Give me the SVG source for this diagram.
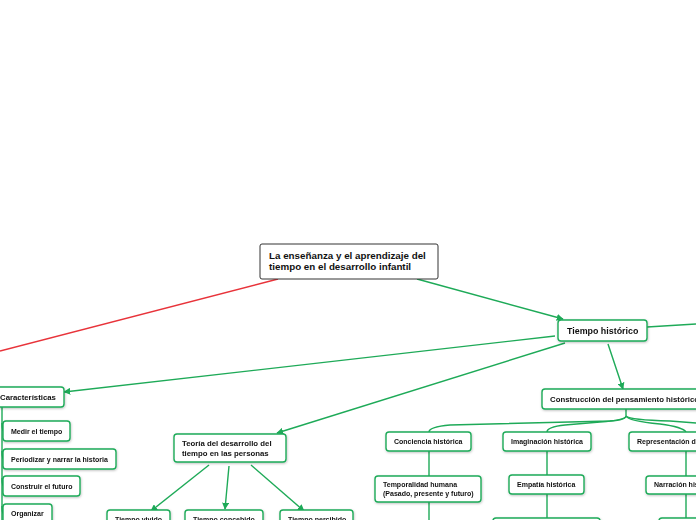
<svg xmlns="http://www.w3.org/2000/svg" width="696" height="520" viewBox="0 0 696 520">
<style>
.b{fill:#fff;stroke:#1eaa58;stroke-width:1.4}
.r{fill:#fff;stroke:#333;stroke-width:1}
.t{font-family:"Liberation Sans",Arial,sans-serif;font-weight:bold;fill:#111}
.s{font-size:7px}
.m{font-size:7.8px}
.c{fill:none;stroke:#1eaa58;stroke-width:1.4}
.red{fill:none;stroke:#e8333a;stroke-width:1.4}
</style>
<defs>
<marker id="a" viewBox="0 0 10 10" refX="9" refY="5" markerWidth="7" markerHeight="7" orient="auto" markerUnits="userSpaceOnUse"><path d="M0,0 L10,5 L0,10 z" fill="#1eaa58"/></marker>
<filter id="s" x="-10%" y="-20%" width="120%" height="150%"><feDropShadow dx="0.5" dy="1" stdDeviation="0.8" flood-color="#000" flood-opacity="0.25"/></filter>
</defs>
<rect width="696" height="520" fill="#fff"/>
<g id="connectors">
<path class="red" d="M278,279 L0,351"/>
<path class="c" d="M417,279 L563,319" marker-end="url(#a)"/>
<path class="c" d="M647,327 L696,324"/>
<path class="c" d="M555,336 L64,392" marker-end="url(#a)"/>
<path class="c" d="M565,343 L277,433" marker-end="url(#a)"/>
<path class="c" d="M608,344 L623,389" marker-end="url(#a)"/>
<path class="c" d="M2,407 L2,520"/>
<path class="c" d="M2,423 Q2,431 4,431"/>
<path class="c" d="M2,451 Q2,459 4,459"/>
<path class="c" d="M2,478 Q2,486 4,486"/>
<path class="c" d="M2,506 Q2,514 4,514"/>
<path class="c" d="M209,465 L151,511" marker-end="url(#a)"/>
<path class="c" d="M229,466 L225,509" marker-end="url(#a)"/>
<path class="c" d="M251,465 L304,511" marker-end="url(#a)"/>
<path class="c" d="M626,409 L626,416 Q626,420 610,421 L450,425 Q429,427 429,432"/>
<path class="c" d="M626,416 Q626,420 600,422 L565,425 Q547,427 547,432"/>
<path class="c" d="M626,416 Q628,421 660,424 Q683,427 686,432"/>
<path class="c" d="M626,416 Q630,420 670,421 L696,423"/>
<path class="c" d="M429,451 L429,476"/>
<path class="c" d="M429,502 L429,520"/>
<path class="c" d="M547,451 L547,475"/>
<path class="c" d="M547,494 L547,518"/>
<path class="c" d="M686,451 L686,476"/>
<path class="c" d="M686,494 L686,518"/>
</g>
<g id="root"><rect class="r" x="260" y="244" width="178" height="35" rx="2"/><text class="t" font-size="9.8" x="269" y="259">La enseñanza y el aprendizaje del</text><text class="t" font-size="9.8" x="269" y="270">tiempo en el desarrollo infantil</text></g>
<g id="tiempo-historico" filter="url(#s)"><rect class="b" x="558" y="320" width="89" height="21" rx="3"/><text class="t" font-size="8.9" x="567" y="333.5">Tiempo histórico</text></g>
<g id="caracteristicas" filter="url(#s)"><rect class="b" x="-5" y="387" width="69" height="20" rx="3"/><text class="t m" x="0" y="400">Características</text></g>
<g id="medir" filter="url(#s)"><rect class="b" x="3" y="421" width="67" height="20" rx="3"/><text class="t s" x="11" y="434">Medir el tiempo</text></g>
<g id="periodizar" filter="url(#s)"><rect class="b" x="3" y="449" width="113" height="20" rx="3"/><text class="t s" x="11" y="462">Periodizar y narrar la historia</text></g>
<g id="construir" filter="url(#s)"><rect class="b" x="3" y="476" width="77" height="20" rx="3"/><text class="t s" x="11" y="489">Construir el futuro</text></g>
<g id="organizar" filter="url(#s)"><rect class="b" x="3" y="504" width="49" height="20" rx="3"/><text class="t s" x="11" y="516">Organizar</text></g>
<g id="teoria" filter="url(#s)"><rect class="b" x="174" y="434" width="112" height="28" rx="3"/><text class="t m" x="182" y="446">Teoría del desarrollo del</text><text class="t m" x="182" y="456">tiempo en las personas</text></g>
<g id="vivido" filter="url(#s)"><rect class="b" x="107" y="510" width="63" height="20" rx="3"/><text class="t s" x="115" y="522">Tiempo vivido</text></g>
<g id="concebido" filter="url(#s)"><rect class="b" x="185" y="510" width="78" height="20" rx="3"/><text class="t s" x="193" y="522">Tiempo concebido</text></g>
<g id="percibido" filter="url(#s)"><rect class="b" x="280" y="510" width="73" height="20" rx="3"/><text class="t s" x="288" y="522">Tiempo percibido</text></g>
<g id="construccion" filter="url(#s)"><rect class="b" x="542" y="389" width="160" height="20" rx="3"/><text class="t m" x="550" y="401.5">Construcción del pensamiento histórico</text></g>
<g id="conciencia" filter="url(#s)"><rect class="b" x="386" y="432" width="85" height="19" rx="3"/><text class="t s" x="394" y="444">Conciencia histórica</text></g>
<g id="imaginacion" filter="url(#s)"><rect class="b" x="503" y="432" width="88" height="19" rx="3"/><text class="t s" x="511" y="444">Imaginación histórica</text></g>
<g id="representacion" filter="url(#s)"><rect class="b" x="629" y="432" width="110" height="19" rx="3"/><text class="t s" x="637" y="444">Representación de la historia</text></g>
<g id="temporalidad" filter="url(#s)"><rect class="b" x="375" y="476" width="106" height="26" rx="3"/><text class="t s" x="383" y="487">Temporalidad humana</text><text class="t s" x="383" y="496">(Pasado, presente y futuro)</text></g>
<g id="empatia" filter="url(#s)"><rect class="b" x="509" y="475" width="75" height="19" rx="3"/><text class="t s" x="517" y="487">Empatía histórica</text></g>
<g id="narracion" filter="url(#s)"><rect class="b" x="646" y="476" width="90" height="18" rx="3"/><text class="t s" x="654" y="487">Narración histórica</text></g>
<g id="empatia-child" filter="url(#s)"><rect class="b" x="493" y="518" width="107" height="20" rx="3"/></g>
<g id="narracion-child" filter="url(#s)"><rect class="b" x="659" y="518" width="60" height="20" rx="3"/></g>
</svg>
